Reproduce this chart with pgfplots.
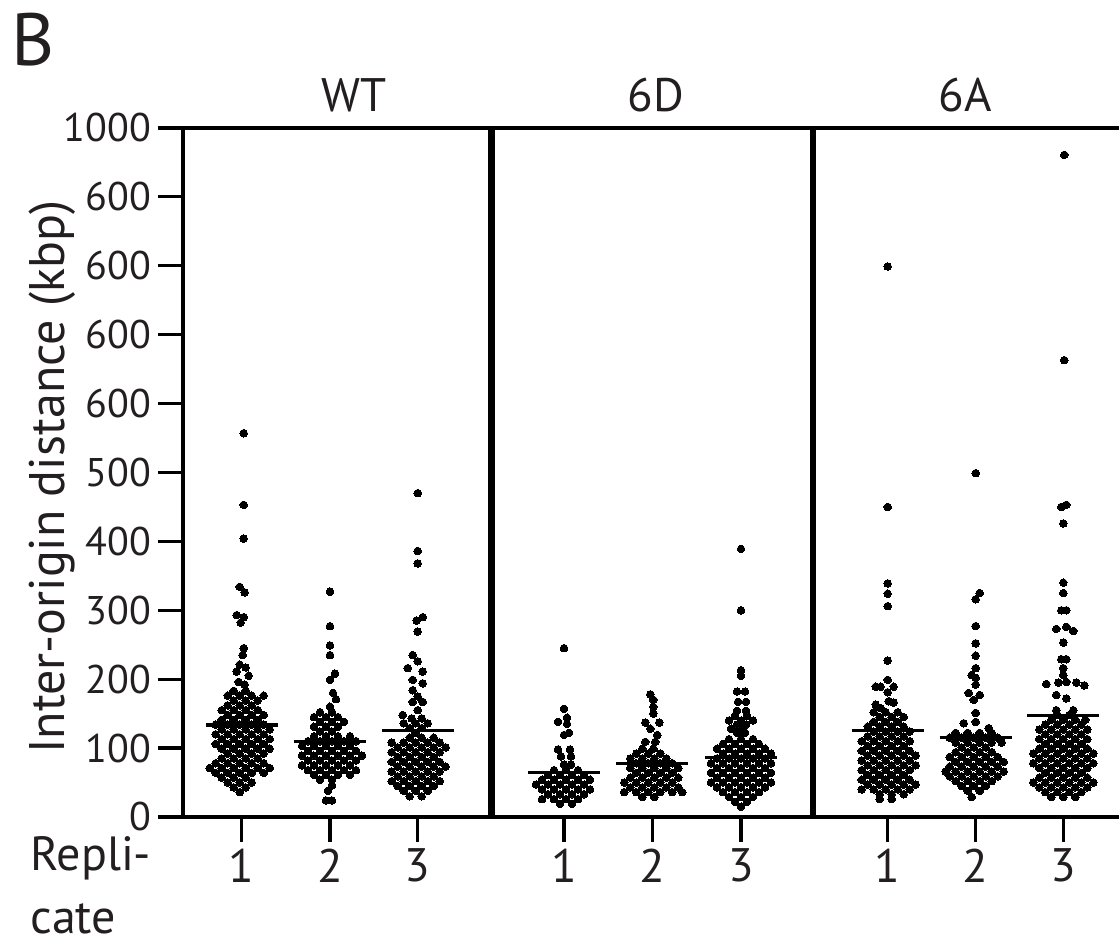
\documentclass[border=0pt]{standalone}
\usepackage{fontspec}
\setmainfont{PT Sans}
\usepackage{pgfplots}
\pgfplotsset{compat=1.18}
\usepackage{pgfplotstable}
\definecolor{ink}{RGB}{35,31,32}

% dx = horizontal swarm offset (px), v = inter-origin distance (kbp)
\pgfplotstableread[row sep=\\]{
dx v\\
2 557\\ 2 453\\ 2 404\\ -2 334\\ 3 326\\ -5 293\\ 2 290\\ -1 282\\ 2 245\\ 1 235\\ -2 221\\ 4 217\\ -5 211\\ 7 205\\ -3 196\\ 3 192\\
-8 183\\ 4 183\\
-14 176\\ -2 176\\ 10 176\\ 22 176\\
-8 169\\ 4 169\\ 16 169\\
-14 162\\ -2 162\\ 10 162\\
-20 155\\ -8 155\\ 4 155\\ 16 155\\
-14 148\\ -2 148\\ 10 148\\ 22 148\\
-20 141\\ -8 141\\ 4 141\\ 16 141\\
-26 134\\ -14 134\\ -2 134\\ 10 134\\ 22 134\\
-20 127\\ -8 127\\ 4 127\\ 16 127\\ 28 127\\
-26 120\\ -14 120\\ -2 120\\ 10 120\\ 22 120\\
-20 113\\ -8 113\\ 4 113\\ 16 113\\ 28 113\\
-26 106\\ -14 106\\ -2 106\\ 10 106\\ 22 106\\
-20 99\\ -8 99\\ 4 99\\ 16 99\\ 28 99\\
-14 92\\ -2 92\\ 10 92\\ 22 92\\
-20 85\\ -8 85\\ 4 85\\ 16 85\\
-26 78\\ -14 78\\ -2 78\\ 10 78\\ 22 78\\
-32 71\\ -20 71\\ -8 71\\ 4 71\\ 16 71\\ 28 71\\
-26 64\\ -14 64\\ -2 64\\ 10 64\\ 22 64\\
-20 57\\ -8 57\\ 4 57\\
-14 50\\ -2 50\\ 10 50\\
-8 43\\ 4 43\\
-2 36\\
}\wtA

\pgfplotstableread[row sep=\\]{
dx v\\
0 327\\ 0 277\\ 0 249\\ 0 235\\ 5 208\\ 0 199\\ 3 180\\ 6 171\\ 0 160\\
-10 152\\ 2 152\\
-16 145\\ -4 145\\ 8 145\\
-10 138\\ 2 138\\ 14 138\\
-16 131\\ -4 131\\ 8 131\\
-10 124\\ 2 124\\
-16 117\\ -4 117\\ 8 117\\ 20 117\\
-22 110\\ -10 110\\ 2 110\\ 14 110\\ 26 110\\
-28 103\\ -16 103\\ -4 103\\ 8 103\\ 20 103\\
-22 96\\ -10 96\\ 2 96\\ 14 96\\ 26 96\\
-28 89\\ -16 89\\ -4 89\\ 8 89\\ 20 89\\ 32 89\\
-22 82\\ -10 82\\ 2 82\\ 14 82\\ 26 82\\
-28 75\\ -16 75\\ -4 75\\ 8 75\\ 20 75\\
-22 68\\ -10 68\\ 2 68\\ 14 68\\ 26 68\\
-16 61\\ -4 61\\ 8 61\\ 20 61\\
-10 54\\ 2 54\\
2 46\\ -2 38\\ -4 24\\ 2 24\\
}\wtB

\pgfplotstableread[row sep=\\]{
dx v\\
0 470\\ 0 386\\ 0 368\\ 5 290\\ -1 285\\ 0 269\\ -5 235\\ 0 226\\ -10 216\\ 5 211\\ -5 199\\ 5 194\\ -5 184\\ 0 175\\ -5 167\\ 5 167\\ 0 155\\ -15 148\\ -6 143\\ 4 143\\
-14 136\\ -2 136\\ 10 136\\
-8 129\\ 4 129\\
-2 122\\
-8 115\\ 4 115\\ 16 115\\
-26 108\\ -14 108\\ -2 108\\ 10 108\\ 22 108\\
-20 101\\ -8 101\\ 4 101\\ 16 101\\ 28 101\\
-26 94\\ -14 94\\ -2 94\\ 10 94\\ 22 94\\
-20 87\\ -8 87\\ 4 87\\ 16 87\\
-26 80\\ -14 80\\ -2 80\\ 10 80\\ 22 80\\
-20 73\\ -8 73\\ 4 73\\ 16 73\\ 28 73\\
-26 66\\ -14 66\\ -2 66\\ 10 66\\ 22 66\\
-20 59\\ -8 59\\ 4 59\\ 16 59\\
-26 52\\ -14 52\\ -2 52\\ 10 52\\ 22 52\\
-20 45\\ -8 45\\ 4 45\\ 16 45\\
-14 38\\ -2 38\\ 10 38\\
-8 30\\ 4 30\\
}\wtC

\pgfplotstableread[row sep=\\]{
dx v\\
0 245\\ 0 157\\ -6 138\\ 3 144\\ 3 135\\ 0 119\\ 5 122\\ -6 98\\ 6 98\\ -3 88\\ 7 88\\ 0 76\\ 7 76\\
-10 68\\ 2 68\\ 14 68\\
-16 61\\ -4 61\\ 8 61\\ 20 61\\
-22 54\\ -10 54\\ 2 54\\ 14 54\\ 26 54\\
-28 47\\ -16 47\\ -4 47\\ 8 47\\ 20 47\\
-22 40\\ -10 40\\ 2 40\\ 14 40\\ 26 40\\
-16 33\\ -4 33\\ 8 33\\ 20 33\\
-22 26\\ -10 26\\ 2 26\\ 14 26\\
-4 19\\ 8 19\\
}\sdA

\pgfplotstableread[row sep=\\]{
dx v\\
-2 178\\ 1 170\\ 1 160\\ 1 150\\ -7 137\\ 7 137\\ -2 128\\ 5 119\\ -7 109\\ 3 109\\ -10 99\\ 1 99\\
-16 92\\ -4 92\\ 8 92\\
-22 85\\ -10 85\\ 2 85\\ 14 85\\
-16 78\\ -4 78\\ 8 78\\ 20 78\\
-22 71\\ -10 71\\ 2 71\\ 14 71\\ 26 71\\
-16 64\\ -4 64\\ 8 64\\ 20 64\\
-22 57\\ -10 57\\ 2 57\\ 14 57\\ 26 57\\
-28 50\\ -16 50\\ -4 50\\ 8 50\\ 20 50\\
-22 43\\ -10 43\\ 2 43\\ 14 43\\ 26 43\\
-28 36\\ -16 36\\ -4 36\\ 8 36\\ 20 36\\ 30 36\\
-10 29\\ 2 29\\
}\sdB

\pgfplotstableread[row sep=\\]{
dx v\\
0 389\\ 0 300\\ 0 213\\ 0 205\\ -4 182\\ 4 182\\ -3 167\\ 5 167\\ -4 154\\ 5 154\\ -6 147\\ 6 147\\ -12 140\\ 0 140\\ 12 140\\ -4 134\\ 5 134\\ -10 128\\ 2 128\\ -4 122\\ 4 122\\
-12 113\\ 0 113\\ 12 113\\
-18 106\\ -6 106\\ 6 106\\ 18 106\\
-24 99\\ -12 99\\ 0 99\\ 12 99\\ 24 99\\
-18 92\\ -6 92\\ 6 92\\ 18 92\\ 30 92\\
-24 85\\ -12 85\\ 0 85\\ 12 85\\ 24 85\\
-30 78\\ -18 78\\ -6 78\\ 6 78\\ 18 78\\ 30 78\\
-24 71\\ -12 71\\ 0 71\\ 12 71\\ 24 71\\
-30 64\\ -18 64\\ -6 64\\ 6 64\\ 18 64\\ 30 64\\
-24 57\\ -12 57\\ 0 57\\ 12 57\\ 24 57\\
-30 50\\ -18 50\\ -6 50\\ 6 50\\ 18 50\\ 30 50\\
-24 43\\ -12 43\\ 0 43\\ 12 43\\ 24 43\\
-18 36\\ -6 36\\ 6 36\\ 18 36\\
-12 29\\ 0 29\\ 12 29\\
-6 22\\ 6 22\\
0 15\\
}\sdC

\pgfplotstableread[row sep=\\]{
dx v\\
0 799\\ 0 450\\ 0 339\\ 0 324\\ 0 306\\ 0 227\\ 0 199\\ -12 189\\ -7 189\\ 6 189\\ 0 181\\ 1 168\\ 6 166\\ -12 163\\ -7 158\\
-14 152\\ -2 152\\ 10 152\\
-8 145\\ 4 145\\ 16 145\\
-14 138\\ -2 138\\ 10 138\\
-20 131\\ -8 131\\ 4 131\\ 16 131\\
-14 124\\ -2 124\\ 10 124\\ 22 124\\
-20 117\\ -8 117\\ 4 117\\ 16 117\\
-26 110\\ -14 110\\ -2 110\\ 10 110\\ 22 110\\
-20 103\\ -8 103\\ 4 103\\ 16 103\\
-26 96\\ -14 96\\ -2 96\\ 10 96\\ 22 96\\
-20 89\\ -8 89\\ 4 89\\ 16 89\\ 28 89\\
-26 82\\ -14 82\\ -2 82\\ 10 82\\ 22 82\\
-20 75\\ -8 75\\ 4 75\\ 16 75\\ 28 75\\
-26 68\\ -14 68\\ -2 68\\ 10 68\\ 22 68\\
-20 61\\ -8 61\\ 4 61\\ 16 61\\
-26 54\\ -14 54\\ -2 54\\ 10 54\\ 22 54\\
-20 47\\ -8 47\\ 4 47\\ 16 47\\ 28 47\\
-26 40\\ -14 40\\ -2 40\\ 10 40\\ 22 40\\
-8 33\\ 4 33\\ 16 33\\
-8 26\\ 4 26\\
}\saA

\pgfplotstableread[row sep=\\]{
dx v\\
0 499\\ 4 325\\ 0 316\\ 0 277\\ 0 252\\ 0 234\\ 0 216\\ -4 206\\ 0 202\\ 0 192\\ -7 180\\ 4 177\\ -2 170\\ 0 151\\ -12 136\\ 0 138\\ 13 129\\
-20 122\\ -8 122\\ 4 122\\ 16 122\\
-26 115\\ -14 115\\ -2 115\\ 10 115\\ 22 115\\
-20 108\\ -8 108\\ 4 108\\ 16 108\\ 26 108\\
-14 101\\ -2 101\\ 10 101\\
-20 94\\ -8 94\\ 4 94\\ 16 94\\
-26 87\\ -14 87\\ -2 87\\ 10 87\\ 22 87\\
-20 80\\ -8 80\\ 4 80\\ 16 80\\ 28 80\\
-26 73\\ -14 73\\ -2 73\\ 10 73\\ 22 73\\
-30 66\\ -20 66\\ -8 66\\ 4 66\\ 16 66\\ 28 66\\
-26 59\\ -14 59\\ -2 59\\ 10 59\\ 22 59\\
-20 52\\ -8 52\\ 4 52\\ 16 52\\
-14 45\\ -2 45\\ 10 45\\
-8 38\\ 4 38\\
-4 29\\
}\saB

\pgfplotstableread[row sep=\\]{
dx v\\
1 961\\ 1 663\\
-2 450\\ 3 453\\ 0 426\\ 0 340\\ 0 325\\ -2 300\\ 3 300\\ -7 273\\ 3 276\\ 10 270\\ 0 253\\ -2 229\\ 3 229\\ 0 216\\ 0 206\\ -17 193\\ -5 195\\ 3 196\\ 13 195\\ 21 191\\ -7 177\\ 3 172\\ -7 155\\ 10 155\\
-6 148\\ 6 148\\
-12 141\\ 0 141\\ 12 141\\ 22 141\\
-18 134\\ -6 134\\ 6 134\\ 18 134\\
-24 127\\ -12 127\\ 0 127\\ 12 127\\ 24 127\\
-18 120\\ -6 120\\ 6 120\\ 18 120\\
-24 113\\ -12 113\\ 0 113\\ 12 113\\ 24 113\\
-18 106\\ -6 106\\ 6 106\\ 18 106\\
-24 99\\ -12 99\\ 0 99\\ 12 99\\ 24 99\\
-30 92\\ -18 92\\ -6 92\\ 6 92\\ 18 92\\ 30 92\\
-24 85\\ -12 85\\ 0 85\\ 12 85\\ 24 85\\
-30 78\\ -18 78\\ -6 78\\ 6 78\\ 18 78\\ 30 78\\
-24 71\\ -12 71\\ 0 71\\ 12 71\\ 24 71\\
-18 64\\ -6 64\\ 6 64\\ 18 64\\
-24 57\\ -12 57\\ 0 57\\ 12 57\\ 24 57\\
-30 50\\ -18 50\\ -6 50\\ 6 50\\ 18 50\\ 30 50\\
-24 43\\ -12 43\\ 0 43\\ 12 43\\ 24 43\\
-18 36\\ -6 36\\ 6 36\\ 18 36\\
-12 29\\ 0 29\\ 12 29\\
}\saC

\begin{document}
\begin{tikzpicture}
\path[use as bounding box] (-91.5pt,-61.5pt) rectangle (468pt,408.5pt);
\begin{axis}[
  at={(0pt,0pt)}, anchor=south west,
  scale only axis, width=468pt, height=344.5pt,
  xmin=0, xmax=936, ymin=0, ymax=1000,
  axis x line*=box, axis y line*=left,
  axis line style={line width=1.6pt, black},
  xtick={58.7,147,234.7,381,469.3,558,704.7,792.7,880.3},
  xticklabels={1,2,3,1,2,3,1,2,3},
  ytick={0,100,...,1000},
  yticklabels={0,100,200,300,400,500,600,600,600,600,1000},
  tick align=outside, xtick pos=bottom, ytick pos=left,
  major tick length=12.5pt,
  tick style={line width=1.6pt, black},
  xticklabel style={font=\fontsize{23.5}{28}\selectfont, text=ink},
  yticklabel style={font=\fontsize{20}{24}\selectfont, text=ink},
  /pgf/number format/assume math mode=true,
  clip=false,
  swarm/.style={only marks, mark=*, mark size=1.9pt,
    mark options={fill=black, draw=black, line width=0pt}},
  mean/.style={black, line width=1.6pt, no marks},
]
\addplot[swarm] table[x expr=\thisrow{dx}+58.7, y=v] {\wtA};
\addplot[swarm] table[x expr=\thisrow{dx}+147, y=v] {\wtB};
\addplot[swarm] table[x expr=\thisrow{dx}+234.7, y=v] {\wtC};
\addplot[swarm] table[x expr=\thisrow{dx}+381, y=v] {\sdA};
\addplot[swarm] table[x expr=\thisrow{dx}+469.3, y=v] {\sdB};
\addplot[swarm] table[x expr=\thisrow{dx}+558, y=v] {\sdC};
\addplot[swarm] table[x expr=\thisrow{dx}+704.7, y=v] {\saA};
\addplot[swarm] table[x expr=\thisrow{dx}+792.7, y=v] {\saB};
\addplot[swarm] table[x expr=\thisrow{dx}+880.3, y=v] {\saC};

% mean lines
\addplot[mean] coordinates {(22.7,133.5) (94.7,133.5)};
\addplot[mean] coordinates {(111,109) (183,109)};
\addplot[mean] coordinates {(198.7,125) (270.7,125)};
\addplot[mean] coordinates {(345,65) (417,65)};
\addplot[mean] coordinates {(433.3,78) (505.3,78)};
\addplot[mean] coordinates {(522,86) (594,86)};
\addplot[mean] coordinates {(668.7,125) (740.7,125)};
\addplot[mean] coordinates {(756.7,115) (828.7,115)};
\addplot[mean] coordinates {(844.3,147) (916.3,147)};

% panel dividers
\addplot[black, line width=3.3pt, no marks] coordinates {(308.5,0) (308.5,1000)};
\addplot[black, line width=3.3pt, no marks] coordinates {(630,0) (630,1000)};

\node[anchor=base, yshift=8pt, font=\fontsize{23.5}{28}\selectfont, text=ink] at (axis cs:171,1000) {WT};
\node[anchor=base, yshift=8pt, font=\fontsize{23.5}{28}\selectfont, text=ink] at (axis cs:473,1000) {6D};
\node[anchor=base, yshift=8pt, font=\fontsize{23.5}{28}\selectfont, text=ink] at (axis cs:782,1000) {6A};
\node[anchor=base west, inner sep=0pt, font=\fontsize{37}{40}\selectfont, text=ink] at (axis cs:-172,1091) {B};
\node[anchor=base, rotate=90, font=\fontsize{25}{30}\selectfont, text=ink] at (axis cs:-118,493) {Inter-origin distance (kbp)};
\node[anchor=base west, inner sep=0pt, font=\fontsize{24}{28}\selectfont, text=ink] at (axis cs:-153,-78) {Repli-};
\node[anchor=base west, inner sep=0pt, font=\fontsize{24}{28}\selectfont, text=ink] at (axis cs:-153,-169) {cate};
\end{axis}
\end{tikzpicture}
\end{document}
